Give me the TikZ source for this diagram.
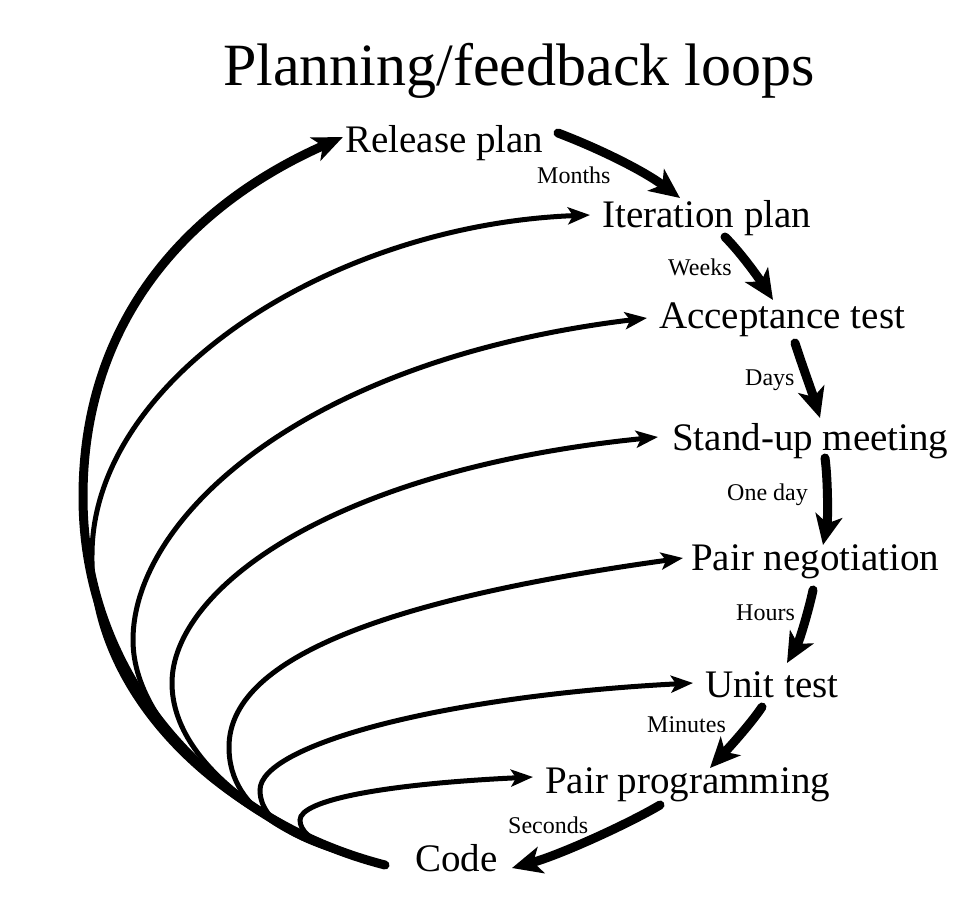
\documentclass[tikz,border=0pt]{standalone}
\usepackage{fontspec}
\setmainfont{Liberation Serif}
\usetikzlibrary{arrows.meta}
\begin{document}
\begin{tikzpicture}[x=1pt,y=-1pt,
  lbl/.style={anchor=base west, inner sep=0pt, font=\fontsize{39}{45}\selectfont},
  tlbl/.style={anchor=base west, inner sep=0pt, font=\fontsize{24}{28}\selectfont},
  ttl/.style={anchor=base, inner sep=0pt, font=\fontsize{60}{72}\selectfont},
  chain/.style={line width=9pt, line cap=round, -{Stealth[length=30pt,width=27pt,inset=8pt]}},
  loopthin/.style={line width=5pt, line cap=round, -{Stealth[length=22pt,width=17pt,inset=5pt]}},
  loopthick/.style={line width=9pt, line cap=round, -{Stealth[length=30pt,width=25pt,inset=8pt]}},
]
\useasboundingbox (0,0) rectangle (980,902);

\node[ttl] (title) at (519,85) {Planning/feedback loops};

\node[lbl] (rel)   at (345,152) {Release plan};
\node[lbl] (iter)  at (602,227) {Iteration plan};
\node[lbl] (acc)   at (659,328) {Acceptance test};
\node[lbl] (stand) at (672,450) {Stand-up meeting};
\node[lbl] (neg)   at (691,570) {Pair negotiation};
\node[lbl] (unit)  at (705,697) {Unit test};
\node[lbl] (prog)  at (545,793) {Pair programming};
\node[lbl] (code)  at (415,871) {Code};

\node[tlbl] (months)  at (537,183) {Months};
\node[tlbl] (weeks)   at (668,275) {Weeks};
\node[tlbl] (days)    at (745,385) {Days};
\node[tlbl] (oneday)  at (727,500) {One day};
\node[tlbl] (hours)   at (736,620) {Hours};
\node[tlbl] (minutes) at (647,732) {Minutes};
\node[tlbl] (seconds) at (508,833) {Seconds};

% chain of thick arrows
\draw[chain] ([shift={(213,-19)}]rel.base west) .. controls +(42,16) and +(-36,-27) .. ([shift={(78,-29)}]iter.base west);
\draw[chain] ([shift={(123,10)}]iter.base west) .. controls +(17,17) and +(-13,-20) .. ([shift={(114,-28)}]acc.base west);
\draw[chain] ([shift={(136,15)}]acc.base west) .. controls +(6,19) and +(-7,-23) .. ([shift={(148,-32)}]stand.base west);
\draw[chain] ([shift={(153,8)}]stand.base west) .. controls +(3,22) and +(5,-25) .. ([shift={(132,-25)}]neg.base west);
\draw[chain] ([shift={(122,20)}]neg.base west) .. controls +(-3,15) and +(13,-23) .. ([shift={(82,-34)}]unit.base west);
\draw[chain] ([shift={(57,10)}]unit.base west) .. controls +(-12,18) and +(15,-16) .. ([shift={(165,-25)}]prog.base west);
\draw[chain] ([shift={(115,12)}]prog.base west) .. controls +(-30,18) and +(48,-13) .. ([shift={(97,-3)}]code.base west);

% feedback loops from Code
\draw[loopthin] ([shift={(-30,-6)}]code.base west) .. controls (345,855) and (300,842) .. (300,820)
   .. controls (300,800) and (385,784) .. ([shift={(-12,-16)}]prog.base west);
\draw[loopthin] ([shift={(-30,-6)}]code.base west) .. controls (320,848) and (260,830) .. (260,790)
   .. controls (260,745) and (443,696) .. ([shift={(-12,-14)}]unit.base west);
\draw[loopthin] ([shift={(-30,-6)}]code.base west) .. controls (300,843) and (229,815) .. (229,747)
   .. controls (229,660) and (380,600) .. ([shift={(-8,-12)}]neg.base west);
\draw[loopthin] ([shift={(-30,-6)}]code.base west) .. controls (290,840) and (172,770) .. (172,683)
   .. controls (172,590) and (330,470) .. ([shift={(-14,-13)}]stand.base west);
\draw[loopthin] ([shift={(-30,-6)}]code.base west) .. controls (270,835) and (133,740) .. (133,640)
   .. controls (133,520) and (300,360) .. ([shift={(-12,-10)}]acc.base west);
\draw[loopthin] ([shift={(-30,-6)}]code.base west) .. controls (212,820) and (90,690) .. (92,555)
   .. controls (92,380) and (330,225) .. ([shift={(-12,-12)}]iter.base west);
\draw[loopthick] ([shift={(-30,-6)}]code.base west) .. controls (210,820) and (83,677) .. (83,497)
   .. controls (83,310) and (200,200) .. ([shift={(-2,-15)}]rel.base west);
\end{tikzpicture}
\end{document}
